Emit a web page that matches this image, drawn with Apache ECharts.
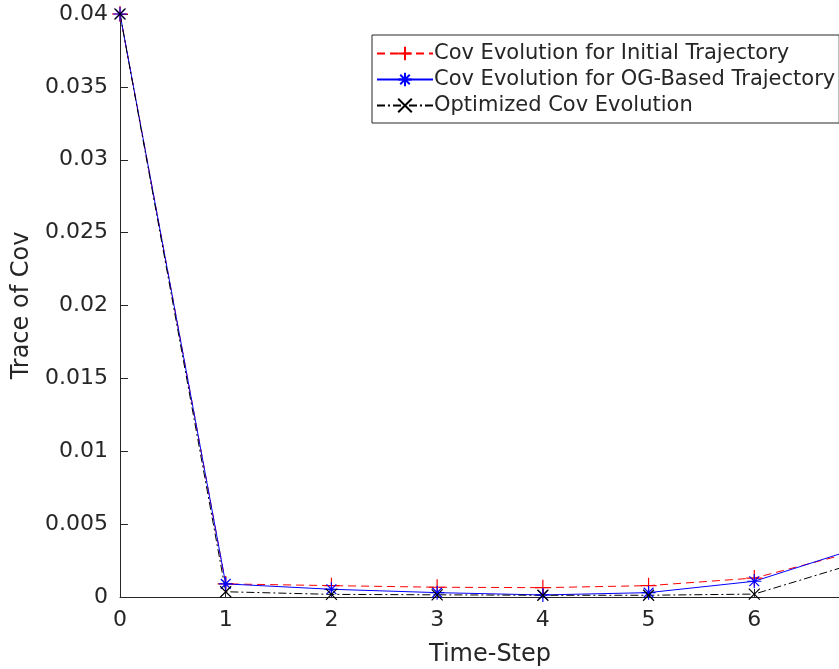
<!DOCTYPE html>
<html>
<head>
<meta charset="utf-8">
<script src="https://cdn.jsdelivr.net/npm/echarts@6/dist/echarts.min.js"></script>
<style>
  html, body { margin: 0; padding: 0; background: #fff; }
  #chart { width: 839px; height: 669px; }
</style>
</head>
<body>
<div id="chart"></div>
<script>
// data
const steps = [0, 1, 2, 3, 4, 5, 6, 7];
const initialCov = [0.04, 0.0009, 0.00078, 0.00067, 0.00064, 0.00078, 0.0013, 0.0032];
const ogCov = [0.04, 0.0009, 0.00053, 0.0003, 0.00014, 0.0003, 0.00108, 0.0034];
const optimizedCov = [0.04, 0.00036, 0.00018, 0.00015, 0.00012, 0.00012, 0.0002, 0.0024];
const yTicks = [0, 0.005, 0.01, 0.015, 0.02, 0.025, 0.03, 0.035, 0.04];

const txt = '#262626';
const font = 'DejaVu Sans';

const plusPath = 'path://M0,-10L0,10M-10,0L10,0';
const starPath = 'path://M0,-10L0,10M-10,0L10,0M-7,-7L7,7M-7,7L7,-7';
const crossPath = 'path://M-7,-7L7,7M-7,7L7,-7';

function pairs(ys) {
  return steps.map((x, i) => [x, ys[i]]);
}

function mkSeries(name, ys, color, dash, symbol, size) {
  return {
    name: name,
    type: 'line',
    data: pairs(ys),
    symbol: symbol,
    symbolSize: size,
    showAllSymbol: true,
    clip: true,
    lineStyle: { color: color, width: 1, type: dash },
    itemStyle: { color: 'rgba(0,0,0,0)', borderColor: color, borderWidth: 1.2 },
    emphasis: { disabled: true },
    animation: false
  };
}

const chart = echarts.init(document.getElementById('chart'));
chart.setOption({
  animation: false,
  grid: { left: 120, top: 14, width: 740, height: 583, outerBoundsMode: 'none' },
  legend: {
    left: 372, top: 35,
    orient: 'vertical',
    padding: [8, 4, 7, 4],
    itemGap: 5,
    itemWidth: 56, itemHeight: 17,
    borderColor: '#262626', borderWidth: 1,
    backgroundColor: '#fff',
    textStyle: { fontFamily: font, fontSize: 21, color: txt, padding: [0, 0, 0, -4] },
    data: ['Cov Evolution for Initial Trajectory', 'Cov Evolution for OG-Based Trajectory', 'Optimized Cov Evolution']
  },
  xAxis: {
    type: 'value',
    min: 0, max: 7, interval: 1,
    name: 'Time-Step',
    nameLocation: 'middle',
    nameGap: 46,
    nameTextStyle: { fontFamily: font, fontSize: 24, color: txt },
    axisLine: { lineStyle: { color: txt, width: 1 } },
    axisTick: { inside: true, length: 8, lineStyle: { color: txt } },
    axisLabel: { fontFamily: font, fontSize: 22, color: txt, margin: 12 },
    splitLine: { show: false }
  },
  yAxis: {
    type: 'value',
    min: 0, max: 0.04, interval: 0.005,
    name: 'Trace of Cov',
    nameLocation: 'middle',
    nameGap: 84,
    nameTextStyle: { fontFamily: font, fontSize: 24, color: txt },
    axisLine: { show: true, lineStyle: { color: txt, width: 1 } },
    axisTick: { show: true, inside: true, length: 8, lineStyle: { color: txt } },
    axisLabel: {
      fontFamily: font, fontSize: 22, color: txt, margin: 12,
      formatter: v => {
        const t = yTicks.find(k => Math.abs(k - v) < 1e-9);
        return t === undefined ? '' : String(+t.toFixed(3));
      }
    },
    splitLine: { show: false }
  },
  series: [
    mkSeries('Cov Evolution for Initial Trajectory', initialCov, '#ff0000', [8, 5], plusPath, 16),
    mkSeries('Cov Evolution for OG-Based Trajectory', ogCov, '#0000ff', 'solid', starPath, 14),
    mkSeries('Optimized Cov Evolution', optimizedCov, '#000000', [8, 3, 2, 3], crossPath, 11)
  ]
});
</script>
</body>
</html>
